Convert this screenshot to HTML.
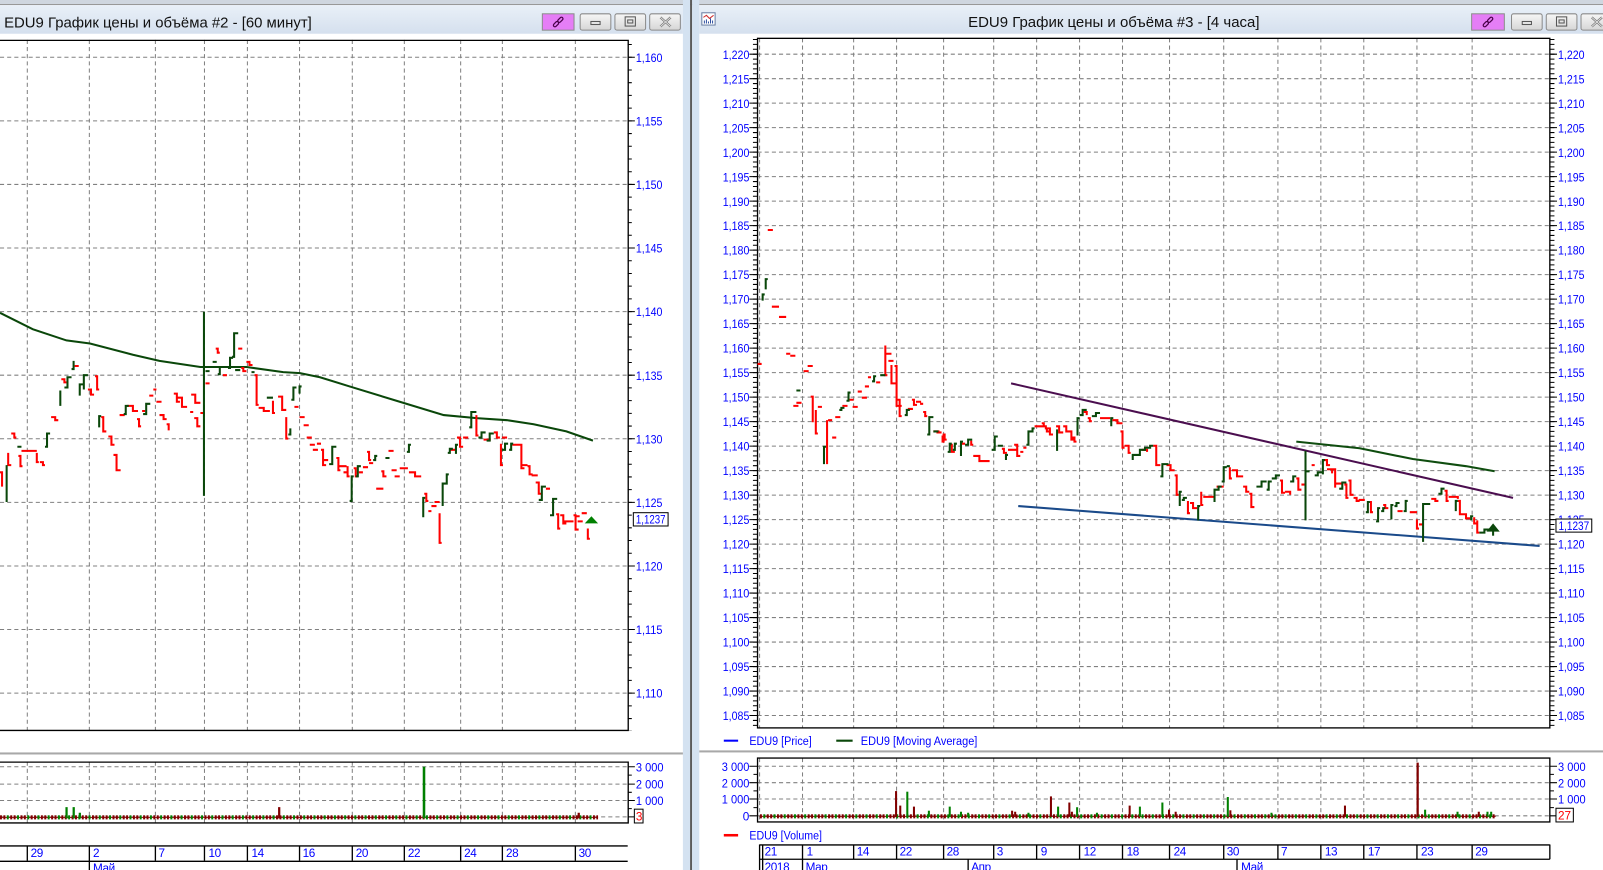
<!DOCTYPE html>
<html><head><meta charset="utf-8"><style>
html,body{margin:0;padding:0;background:#fff;overflow:hidden}
svg{display:block}
text{font-family:"Liberation Sans","Noto Sans CJK SC",sans-serif}
.yl{font-size:11.5px;fill:#0000ff}
.dl{font-size:11.5px;fill:#0000ff;letter-spacing:-0.4px}
.lg{font-size:11.5px;fill:#0000ff}
.tt{font-size:14px;fill:#111}
</style></head><body>
<svg width="1603" height="870" viewBox="0 0 1568 851" preserveAspectRatio="none" xmlns="http://www.w3.org/2000/svg">
<defs>
<linearGradient id="tb" x1="0" y1="0" x2="0" y2="1"><stop offset="0" stop-color="#e9f0f8"/><stop offset="1" stop-color="#d5e0ee"/></linearGradient>
<linearGradient id="bg" x1="0" y1="0" x2="0" y2="1"><stop offset="0" stop-color="#f6f6f6"/><stop offset="1" stop-color="#d6d6d6"/></linearGradient>
<pattern id="vb" width="10" height="4" patternUnits="userSpaceOnUse"><rect x="0" y="0" width="2" height="4" fill="#800000"/><rect x="3.3" y="0" width="2" height="4" fill="#800000"/><rect x="6.6" y="0" width="2" height="4" fill="#008000"/></pattern>
</defs>
<rect width="1568" height="851" fill="#fff"/>
<!-- top strip -->
<rect x="0" y="0" width="1568" height="4" fill="#cfd6df"/>
<line x1="0" y1="4.5" x2="1568" y2="4.5" stroke="#8a8a8a" stroke-width="1"/>
<!-- title bars -->
<rect x="0" y="5" width="668" height="28" fill="url(#tb)"/>
<rect x="684" y="5" width="884" height="28" fill="url(#tb)"/>
<!-- divider column -->
<rect x="668" y="0" width="7" height="851" fill="#d4e2f1"/>
<rect x="675" y="0" width="2" height="851" fill="#5b5b5b"/>
<rect x="677" y="0" width="7" height="851" fill="#d4e2f1"/>

<!-- titles -->
<text class="tt" x="4" y="27" textLength="301" lengthAdjust="spacingAndGlyphs">EDU9 График цены и объёма #2 - [60 минут]</text>
<text class="tt" x="947" y="26.5" textLength="285" lengthAdjust="spacingAndGlyphs">EDU9 График цены и объёма #3 - [4 часа]</text>

<!-- right window icon -->
<rect x="686.5" y="12.5" width="13" height="12" fill="#fff" stroke="#6b7fa3"/>
<path d="M688 17 L691 15 L694 18 L698 15" stroke="#d03030" fill="none" stroke-width="1"/>
<path d="M689 23V20M691 23V19M693 23V21M695 23V18M697 23V20" stroke="#3050a0" stroke-width="1"/>

<!-- left buttons -->
<rect x="530.5" y="13.5" width="31" height="16" fill="#e57ef6" stroke="#8c8c8c"/>
<g transform="rotate(-45 546 21.5)" fill="none" stroke="#4a004a" stroke-width="1.2"><rect x="540" y="20" width="6" height="3" rx="1.5"/><rect x="546" y="20" width="6" height="3" rx="1.5"/></g>
<rect x="567.5" y="13.5" width="30" height="16" rx="2" fill="url(#bg)" stroke="#8a8a8a"/>
<rect x="578" y="21" width="9" height="3" fill="none" stroke="#555"/>
<rect x="601.5" y="13.5" width="30" height="16" rx="2" fill="url(#bg)" stroke="#8a8a8a"/>
<rect x="611.5" y="16.5" width="10" height="9" fill="none" stroke="#555"/><rect x="614" y="19.5" width="5" height="3" fill="none" stroke="#555"/>
<rect x="635.5" y="13.5" width="30" height="16" rx="2" fill="url(#bg)" stroke="#8a8a8a"/>
<path d="M646 17L656 26M656 17L646 26" stroke="#777" stroke-width="2.2"/><path d="M646 17L656 26M656 17L646 26" stroke="#eee" stroke-width="0.8"/>

<!-- right buttons -->
<rect x="1439.5" y="13.5" width="32" height="16" fill="#e57ef6" stroke="#8c8c8c"/>
<g transform="rotate(-45 1455.5 21.5)" fill="none" stroke="#4a004a" stroke-width="1.2"><rect x="1449.5" y="20" width="6" height="3" rx="1.5"/><rect x="1455.5" y="20" width="6" height="3" rx="1.5"/></g>
<rect x="1478.5" y="13.5" width="30" height="16" rx="2" fill="url(#bg)" stroke="#8a8a8a"/>
<rect x="1489" y="21" width="9" height="3" fill="none" stroke="#555"/>
<rect x="1512.5" y="13.5" width="30" height="16" rx="2" fill="url(#bg)" stroke="#8a8a8a"/>
<rect x="1522.5" y="16.5" width="10" height="9" fill="none" stroke="#555"/><rect x="1525" y="19.5" width="5" height="3" fill="none" stroke="#555"/>
<rect x="1546.5" y="13.5" width="30" height="16" rx="2" fill="url(#bg)" stroke="#8a8a8a"/>
<path d="M1557 17L1567 26M1567 17L1557 26" stroke="#777" stroke-width="2.2"/><path d="M1557 17L1567 26M1567 17L1557 26" stroke="#eee" stroke-width="0.8"/>

<!-- separators -->
<rect x="0" y="736" width="668" height="2" fill="#a8a8a8"/>
<rect x="684" y="734" width="884" height="2" fill="#a8a8a8"/>

<!-- ============ LEFT CHART ============ -->
<g stroke="#808080" stroke-width="1" stroke-dasharray="4 3" fill="none">
<path d="M0 56H614M0 118.2H614M0 180.4H614M0 242.6H614M0 304.8H614M0 367H614M0 429.2H614M0 491.4H614M0 553.6H614M0 615.8H614M0 678H614"/>
<path d="M26.7 39V715M87.4 39V715M152 39V715M200 39V715M242 39V715M293 39V715M344.6 39V715M395.5 39V715M450.6 39V715M491.4 39V715M562.8 39V715"/>
<path d="M26.7 745V805M87.4 745V805M152 745V805M200 745V805M242 745V805M293 745V805M344.6 745V805M395.5 745V805M450.6 745V805M491.4 745V805M562.8 745V805"/>
<path d="M0 750H614M0 767H614M0 783H614M0 799H614"/>
</g>
<!-- left plot borders -->
<path d="M0 39.5H614.5V714.5H0" fill="none" stroke="#000" stroke-width="1.3"/>
<path d="M0 745.5H614.5V805H0" fill="none" stroke="#000" stroke-width="1.3"/>
<!-- left ticks -->
<path d="M616 43.06V715" stroke="#000" stroke-width="4" stroke-dasharray="1 11.44"/>
<path d="M614 56H621M614 118.2H621M614 180.4H621M614 242.6H621M614 304.8H621M614 367H621M614 429.2H621M614 491.4H621M614 553.6H621M614 615.8H621M614 678H621" stroke="#000" stroke-width="1"/>
<path d="M614 750H621M614 758.2H618M614 767H621M614 775H618M614 783H621M614 791H618M614 799H621" stroke="#000" stroke-width="1"/>
<!-- left y labels -->
<g class="yl">
<text x="622" y="60.5" textLength="26" lengthAdjust="spacingAndGlyphs">1,160</text>
<text x="622" y="122.7" textLength="26" lengthAdjust="spacingAndGlyphs">1,155</text>
<text x="622" y="184.9" textLength="26" lengthAdjust="spacingAndGlyphs">1,150</text>
<text x="622" y="247.1" textLength="26" lengthAdjust="spacingAndGlyphs">1,145</text>
<text x="622" y="309.3" textLength="26" lengthAdjust="spacingAndGlyphs">1,140</text>
<text x="622" y="371.5" textLength="26" lengthAdjust="spacingAndGlyphs">1,135</text>
<text x="622" y="433.7" textLength="26" lengthAdjust="spacingAndGlyphs">1,130</text>
<text x="622" y="495.9" textLength="26" lengthAdjust="spacingAndGlyphs">1,125</text>
<text x="622" y="558.1" textLength="26" lengthAdjust="spacingAndGlyphs">1,120</text>
<text x="622" y="620.3" textLength="26" lengthAdjust="spacingAndGlyphs">1,115</text>
<text x="622" y="682.5" textLength="26" lengthAdjust="spacingAndGlyphs">1,110</text>
<text x="622" y="754.5" textLength="27" lengthAdjust="spacingAndGlyphs">3 000</text>
<text x="622" y="771.5" textLength="27" lengthAdjust="spacingAndGlyphs">2 000</text>
<text x="622" y="787.5" textLength="27" lengthAdjust="spacingAndGlyphs">1 000</text>
</g>
<!-- left MA -->
<polyline points="0,306 32,322 65,333 88,336 130,347 156,353 196,359 241,359 277,364 293.5,365 313,369 342,378 391,393 434,406 466,409 496,411 522,415 554,422 580,431" fill="none" stroke="#0a470a" stroke-width="2"/>
<!-- left red bars -->
<path fill="none" stroke="#ff0000" stroke-width="2" d="M0 462H2V475H3M8 443V455H11M11 424H14V428H16M18 446H20V456H22M21 441H36M36 443V452H38M39 452H42V455H44M50 408H54V411H57M60 371H63V374H65M73 358H77M86 381H89V386H92M93 368H95V381H97M99 408H101V422H104M106 427H109V435H112M111 445H114V460H118M117 406H122M124 397H130V402H135M134 410H136V417H138M139 402H142M146 387H150M150 381H153M153 393H158M156 406H160V410H163M163 415H165V420H166M170 385H173V393H176M173 389H178V398H183M186 403H189M187 386H191V394H196M190 409H193V417H196M196 404H199M201 375H205M211 341H213V345H215M218 367H222M233 341H237M236 360H238V363H241M241 354H244V357H247M249 367H251V396H253M253 399H258V402H264M266 393H267V404H269M272 388H276V401H280M279 409H280V429H282M288 398H292M293 408H298M297 416H302M300 428H305M303 435H308M306 440H311M310 434H314M314 440H316V455H319M316 450H321M329 448H331V460H333M332 456H339M336 462H341M339 457H340V466H342M346 458H348V466H350M351 462H355M355 457H360M359 442H361V450H363M361 453H365M368 478H375M373 461H375V466H378M380 441H385M383 460H388M386 466H391M391 458H399M400 462H406V466H412M415 483H417V490H419M419 500H422M422 495H427M425 491H430M429 503H430V531H432M440 440H446M447 428H450V437H453M453 428H458M465 407H466V426H468M473 430H480M483 423H486V428H489M489 435H490V455H492M491 428H496M501 435H508M508 435H510V458H513M511 455H516M516 456H518V464H521M520 465H526M524 472H527V483H530M534 478H538M544 503H546V517H548M548 504H551V512H554M551 510H561M561 504H563V518H566M564 505H567M569 502H574M565 510H570M574 518H575V527H577"/>
<!-- left green bars -->
<path fill="none" stroke="#0a470a" stroke-width="2" d="M6.5 455V491M17 437H21M44 437H46V424H49M58 396H59V383H60M63 379H66V369H70M70 361H72V354H73M77 386H78V376H81M81 380H82V367H86M96 417H97V407H99M121 405H123V397H126M140 405H143V395H147M199.5 305V485M201 363H205M208 354H212M213 366H215V359H217M223 360H225V350H228M227 349H229V326H233M230 362H235M246 364H249M261 389H267M282 425H284V420H285M285 391H287V379H290M292 384H293V378H295M322 454H325V437H329M342 490H344V466H346M348 466H350V456H353M365 450H367V446H369M377 448H381M398 442H400V435H402M413 505H414V487H416M432 494H433V473H435M435 473H437V464H439M438 443H440V439H443M445 443H446V435H448M459 418H461V403H466M468 428H471V423H475M476 431H479V424H483M491 440H494V434H497M498 440H500V434H502M527 489H530V476H534M538 504H541V488H545"/>
<polygon points="572,512 578.5,505 585,512" fill="#008000"/>
<!-- left current price -->
<rect x="619.5" y="501.5" width="34" height="13" fill="#fff" stroke="#000" stroke-width="1"/>
<text class="yl" x="622" y="512" textLength="29" lengthAdjust="spacingAndGlyphs">1,1237</text>
<!-- left volume -->
<line x1="0" y1="799.5" x2="585" y2="799.5" stroke="#800000" stroke-width="1"/>
<rect x="0" y="797.5" width="585" height="4" fill="url(#vb)"/>
<g>
<rect x="64" y="789.5" width="2.2" height="11" fill="#008000"/>
<rect x="71" y="789.5" width="2.2" height="11" fill="#008000"/>
<rect x="77" y="795" width="2.2" height="5.5" fill="#008000"/>
<rect x="272" y="789.5" width="2.2" height="11" fill="#800000"/>
<rect x="413.5" y="750" width="2.5" height="50.5" fill="#008000"/>
<rect x="565" y="795" width="2.2" height="5.5" fill="#800000"/>
</g>
<rect x="620.5" y="791.5" width="8.5" height="13.5" fill="#fff" stroke="#000" stroke-width="1"/>
<text x="622" y="802.5" style="font-size:11.5px;fill:#ff0000">3</text>
<!-- left date axis -->
<path d="M0 827.5H614M0 842.5H614" stroke="#000" stroke-width="1.3" fill="none"/>
<path d="M26.7 827V842M87.4 827V851M152 827V842M200 827V842M242 827V842M293 827V842M344.6 827V842M395.5 827V842M450.6 827V842M491.4 827V842M562.8 827V842" stroke="#000" stroke-width="1.3"/>
<g class="dl">
<text x="30" y="838.5">29</text><text x="91" y="838.5">2</text><text x="155" y="838.5">7</text><text x="204" y="838.5">10</text><text x="246" y="838.5">14</text><text x="296" y="838.5">16</text><text x="348" y="838.5">20</text><text x="399" y="838.5">22</text><text x="454" y="838.5">24</text><text x="495" y="838.5">28</text><text x="566" y="838.5">30</text>
<text x="91" y="853">Май</text>
</g>

<!-- ============ RIGHT CHART ============ -->
<g stroke="#808080" stroke-width="1" stroke-dasharray="4 3" fill="none">
<path d="M741 53H1516M741 76.96H1516M741 100.92H1516M741 124.88H1516M741 148.84H1516M741 172.8H1516M741 196.76H1516M741 220.72H1516M741 244.68H1516M741 268.64H1516M741 292.6H1516M741 316.56H1516M741 340.52H1516M741 364.48H1516M741 388.44H1516M741 412.4H1516M741 436.36H1516M741 460.32H1516M741 484.28H1516M741 508.24H1516M741 532.2H1516M741 556.16H1516M741 580.12H1516M741 604.08H1516M741 628.04H1516M741 652H1516M741 675.96H1516M741 699.92H1516"/>
<path d="M743 37.5V712M785 37.5V712M835 37.5V712M877 37.5V712M923 37.5V712M972 37.5V712M1014 37.5V712M1056 37.5V712M1098 37.5V712M1144 37.5V712M1197 37.5V712M1250 37.5V712M1292 37.5V712M1334 37.5V712M1386 37.5V712M1440 37.5V712"/>
<path d="M743 741.5V804M785 741.5V804M835 741.5V804M877 741.5V804M923 741.5V804M972 741.5V804M1014 741.5V804M1056 741.5V804M1098 741.5V804M1144 741.5V804M1197 741.5V804M1250 741.5V804M1292 741.5V804M1334 741.5V804M1386 741.5V804M1440 741.5V804"/>
<path d="M741 749.5H1516M741 765.6H1516M741 781.6H1516M741 798H1516"/>
</g>
<rect x="741" y="37.5" width="775" height="674.5" fill="none" stroke="#000" stroke-width="1.3"/>
<rect x="741" y="741.5" width="775" height="62.5" fill="none" stroke="#000" stroke-width="1.3"/>
<!-- right ticks -->
<path d="M738.5 38.12V712M1518.5 38.12V712" stroke="#000" stroke-width="4" stroke-dasharray="1 3.792"/>
<path d="M733 53H741M733 76.96H741M733 100.92H741M733 124.88H741M733 148.84H741M733 172.8H741M733 196.76H741M733 220.72H741M733 244.68H741M733 268.64H741M733 292.6H741M733 316.56H741M733 340.52H741M733 364.48H741M733 388.44H741M733 412.4H741M733 436.36H741M733 460.32H741M733 484.28H741M733 508.24H741M733 532.2H741M733 556.16H741M733 580.12H741M733 604.08H741M733 628.04H741M733 652H741M733 675.96H741M733 699.92H741" stroke="#000" stroke-width="1"/>
<path d="M1516 53H1523M1516 76.96H1523M1516 100.92H1523M1516 124.88H1523M1516 148.84H1523M1516 172.8H1523M1516 196.76H1523M1516 220.72H1523M1516 244.68H1523M1516 268.64H1523M1516 292.6H1523M1516 316.56H1523M1516 340.52H1523M1516 364.48H1523M1516 388.44H1523M1516 412.4H1523M1516 436.36H1523M1516 460.32H1523M1516 484.28H1523M1516 508.24H1523M1516 532.2H1523M1516 556.16H1523M1516 580.12H1523M1516 604.08H1523M1516 628.04H1523M1516 652H1523M1516 675.96H1523M1516 699.92H1523" stroke="#000" stroke-width="1"/>
<path d="M733 749.5H741M737 757.5H741M733 765.6H741M737 773.6H741M733 781.6H741M737 790H741M733 798H741M1516 749.5H1523M1516 757.5H1520M1516 765.6H1523M1516 773.6H1520M1516 781.6H1523M1516 790H1520M1516 798H1523" stroke="#000" stroke-width="1"/>
<!-- right y labels left side -->
<g class="yl" text-anchor="end">
<text x="733" y="57.5" textLength="26" lengthAdjust="spacingAndGlyphs">1,220</text>
<text x="733" y="81.46" textLength="26" lengthAdjust="spacingAndGlyphs">1,215</text>
<text x="733" y="105.42" textLength="26" lengthAdjust="spacingAndGlyphs">1,210</text>
<text x="733" y="129.38" textLength="26" lengthAdjust="spacingAndGlyphs">1,205</text>
<text x="733" y="153.34" textLength="26" lengthAdjust="spacingAndGlyphs">1,200</text>
<text x="733" y="177.3" textLength="26" lengthAdjust="spacingAndGlyphs">1,195</text>
<text x="733" y="201.26" textLength="26" lengthAdjust="spacingAndGlyphs">1,190</text>
<text x="733" y="225.22" textLength="26" lengthAdjust="spacingAndGlyphs">1,185</text>
<text x="733" y="249.18" textLength="26" lengthAdjust="spacingAndGlyphs">1,180</text>
<text x="733" y="273.14" textLength="26" lengthAdjust="spacingAndGlyphs">1,175</text>
<text x="733" y="297.1" textLength="26" lengthAdjust="spacingAndGlyphs">1,170</text>
<text x="733" y="321.06" textLength="26" lengthAdjust="spacingAndGlyphs">1,165</text>
<text x="733" y="345.02" textLength="26" lengthAdjust="spacingAndGlyphs">1,160</text>
<text x="733" y="368.98" textLength="26" lengthAdjust="spacingAndGlyphs">1,155</text>
<text x="733" y="392.94" textLength="26" lengthAdjust="spacingAndGlyphs">1,150</text>
<text x="733" y="416.9" textLength="26" lengthAdjust="spacingAndGlyphs">1,145</text>
<text x="733" y="440.86" textLength="26" lengthAdjust="spacingAndGlyphs">1,140</text>
<text x="733" y="464.82" textLength="26" lengthAdjust="spacingAndGlyphs">1,135</text>
<text x="733" y="488.78" textLength="26" lengthAdjust="spacingAndGlyphs">1,130</text>
<text x="733" y="512.74" textLength="26" lengthAdjust="spacingAndGlyphs">1,125</text>
<text x="733" y="536.7" textLength="26" lengthAdjust="spacingAndGlyphs">1,120</text>
<text x="733" y="560.66" textLength="26" lengthAdjust="spacingAndGlyphs">1,115</text>
<text x="733" y="584.62" textLength="26" lengthAdjust="spacingAndGlyphs">1,110</text>
<text x="733" y="608.58" textLength="26" lengthAdjust="spacingAndGlyphs">1,105</text>
<text x="733" y="632.54" textLength="26" lengthAdjust="spacingAndGlyphs">1,100</text>
<text x="733" y="656.5" textLength="26" lengthAdjust="spacingAndGlyphs">1,095</text>
<text x="733" y="680.46" textLength="26" lengthAdjust="spacingAndGlyphs">1,090</text>
<text x="733" y="704.42" textLength="26" lengthAdjust="spacingAndGlyphs">1,085</text>
<text x="733" y="754" textLength="27" lengthAdjust="spacingAndGlyphs">3 000</text>
<text x="733" y="770.1" textLength="27" lengthAdjust="spacingAndGlyphs">2 000</text>
<text x="733" y="786.1" textLength="27" lengthAdjust="spacingAndGlyphs">1 000</text>
<text x="733" y="802.5">0</text>
</g>
<!-- right y labels right side -->
<g class="yl">
<text x="1524" y="57.5" textLength="26" lengthAdjust="spacingAndGlyphs">1,220</text>
<text x="1524" y="81.46" textLength="26" lengthAdjust="spacingAndGlyphs">1,215</text>
<text x="1524" y="105.42" textLength="26" lengthAdjust="spacingAndGlyphs">1,210</text>
<text x="1524" y="129.38" textLength="26" lengthAdjust="spacingAndGlyphs">1,205</text>
<text x="1524" y="153.34" textLength="26" lengthAdjust="spacingAndGlyphs">1,200</text>
<text x="1524" y="177.3" textLength="26" lengthAdjust="spacingAndGlyphs">1,195</text>
<text x="1524" y="201.26" textLength="26" lengthAdjust="spacingAndGlyphs">1,190</text>
<text x="1524" y="225.22" textLength="26" lengthAdjust="spacingAndGlyphs">1,185</text>
<text x="1524" y="249.18" textLength="26" lengthAdjust="spacingAndGlyphs">1,180</text>
<text x="1524" y="273.14" textLength="26" lengthAdjust="spacingAndGlyphs">1,175</text>
<text x="1524" y="297.1" textLength="26" lengthAdjust="spacingAndGlyphs">1,170</text>
<text x="1524" y="321.06" textLength="26" lengthAdjust="spacingAndGlyphs">1,165</text>
<text x="1524" y="345.02" textLength="26" lengthAdjust="spacingAndGlyphs">1,160</text>
<text x="1524" y="368.98" textLength="26" lengthAdjust="spacingAndGlyphs">1,155</text>
<text x="1524" y="392.94" textLength="26" lengthAdjust="spacingAndGlyphs">1,150</text>
<text x="1524" y="416.9" textLength="26" lengthAdjust="spacingAndGlyphs">1,145</text>
<text x="1524" y="440.86" textLength="26" lengthAdjust="spacingAndGlyphs">1,140</text>
<text x="1524" y="464.82" textLength="26" lengthAdjust="spacingAndGlyphs">1,135</text>
<text x="1524" y="488.78" textLength="26" lengthAdjust="spacingAndGlyphs">1,130</text>
<text x="1524" y="512.74" textLength="26" lengthAdjust="spacingAndGlyphs">1,125</text>
<text x="1524" y="536.7" textLength="26" lengthAdjust="spacingAndGlyphs">1,120</text>
<text x="1524" y="560.66" textLength="26" lengthAdjust="spacingAndGlyphs">1,115</text>
<text x="1524" y="584.62" textLength="26" lengthAdjust="spacingAndGlyphs">1,110</text>
<text x="1524" y="608.58" textLength="26" lengthAdjust="spacingAndGlyphs">1,105</text>
<text x="1524" y="632.54" textLength="26" lengthAdjust="spacingAndGlyphs">1,100</text>
<text x="1524" y="656.5" textLength="26" lengthAdjust="spacingAndGlyphs">1,095</text>
<text x="1524" y="680.46" textLength="26" lengthAdjust="spacingAndGlyphs">1,090</text>
<text x="1524" y="704.42" textLength="26" lengthAdjust="spacingAndGlyphs">1,085</text>
<text x="1524" y="754" textLength="27" lengthAdjust="spacingAndGlyphs">3 000</text>
<text x="1524" y="770.1" textLength="27" lengthAdjust="spacingAndGlyphs">2 000</text>
<text x="1524" y="786.1" textLength="27" lengthAdjust="spacingAndGlyphs">1 000</text>
</g>
<!-- trend lines -->
<line x1="996" y1="495" x2="1506" y2="534" stroke="#1a4a8a" stroke-width="2"/>
<line x1="989" y1="375" x2="1480" y2="487" stroke="#4b0e4f" stroke-width="2"/>
<polyline points="1268,432 1330,438.5 1382,449 1434,456 1462,461" fill="none" stroke="#0f4d0f" stroke-width="2"/>
<!-- right red bars -->
<path fill="none" stroke="#ff0000" stroke-width="2" d="M741 356H745M751 225H756M755 300H762M762 310H769M769 346H773M773 348H778M776 397H781M779 394H784M786 363H791M790 358H795M793 388H795V412H796M797 402H798V424H800M800 398H804M808 412H809V453H810M810 411H814M814 428H818M817 408H822M824 397H829M831 391H835M834 398H839M839 383H843M843 389H848M846 378H850M849 369H852M857 374H861M865 339H866V367H868M867 346H872M869 353H874M871 358H872V375H874M874 375H877M875 358H877V397H880M877 397H882M878 391H880V407H882M888 400H893M892 391H894V396H897M896 393H901M900 395H903M903 403H905V407H907M913 422H919M916 423H921M921 427H922V432H924M922 425H924V430H926M929 435H931V442H934M941 434H944M949 432H950V435H952M952 446H958V451H968M980 439H982V443H985M986 440H994M992 435H995V446H998M998 442H1001M1001 438H1004M1012 417H1020M1019 414H1021V417H1024M1022 419H1024V422H1027M1025 419H1027V425H1030M1033 417H1036V423H1040M1040 417H1043V422H1046M1046 422H1048V430H1051M1049 428H1051V432H1053M1060 403H1063V406M1064 409H1066V412H1068M1076 409H1086M1088 411H1093V414H1098M1096 422H1098V438H1100M1100 436H1104M1103 436H1104V443H1106M1117 440H1122V442M1128 436H1131V455H1135M1141 455H1145V460H1149M1149 465H1151V484H1153M1161 491H1162V502H1164M1164 492H1167V497H1171M1174 482H1175V494H1177M1177 486H1187M1190 476H1197M1202 458H1203V468H1205M1205 460H1210V466H1216M1216 476H1219V481H1222M1222 483H1224V496H1227M1252 470H1254V482H1257M1257 481H1262V484M1268 468H1270V479H1273M1273 474H1276M1283 455H1286M1295 450H1298V455H1301M1298 459H1303V463M1303 459H1306V476H1307M1307 473H1314M1315 474H1317V487H1319M1319 470H1321V484H1324M1324 487H1327V490H1330M1329 489H1335M1340 491H1341V501H1343M1353 494H1355V497H1358M1367 500H1372M1379 501H1386M1385 509H1386V517H1388M1388 513H1392M1400 488H1404V490H1407M1413 480H1415V490H1417M1417 486H1426V488M1426 490H1428V503H1431M1431 503H1434V507H1438M1441 507H1442V512H1444M1444 510H1445V521H1447"/>
<!-- right green bars -->
<path fill="none" stroke="#0a470a" stroke-width="2" d="M745 293H746V288H748M748 282H749V273H751M779 382H783M805 453H806V437H808M821 401H823V399H826M828 392H830V384H832M853 373H855V368H857M861 367H866M885 406H887V401H890M907 425H909V408H913M913 422H918M927 442H929V434H931M932 440H934V434H936M939 445H940V432H942M944 435H947V430H951M970 440H973V427H976M976 436H981M983 449H984V445H986M1004 435H1006V422H1008M1008 422H1010V419H1012M1033 440H1034V421H1035M1053 425H1054V409H1056M1056 406H1059V401H1063M1068 407H1072V404H1076M1086 416H1087V409H1089M1107 449H1108V445H1110M1110 445H1115V440H1120V438H1125M1123 438H1125V436H1128M1135 466H1137V454H1143M1153 494H1154V481H1156M1156 489H1158V487H1161M1171 508H1172V495H1174M1187 490H1188V479H1190M1190 479H1192V476H1195M1195 471H1197V457H1200M1200 456H1203M1229 476H1234V471H1239M1239 479H1241V471H1244M1244 468H1248V465H1252M1262 471H1265V466H1268M1277 509V441M1277 461H1281M1286 465H1289V462H1293M1293 463H1294V450H1296M1310 478H1313V472H1317M1336 501H1338V491H1340M1346 510H1348V497H1350M1351 500H1353V497H1355M1360 507H1361V494H1363M1364 495H1366V492H1369M1373 500H1375V490H1377M1392 530V493H1399M1407 483H1410V478H1413M1423 499H1424V490H1426M1438 508H1439V505H1441M1447 521H1452V518H1460"/>
<polygon points="1454,520 1460.5,512 1467,520" fill="#0a470a"/>
<path d="M1460.5 519V524" stroke="#0a470a" stroke-width="2"/>
<!-- right current price -->
<rect x="1522" y="507.7" width="35" height="12.8" fill="#fff" stroke="#000" stroke-width="1"/>
<text class="yl" x="1524.5" y="518.3" textLength="30" lengthAdjust="spacingAndGlyphs">1,1237</text>
<!-- legend -->
<line x1="708" y1="724.5" x2="722" y2="724.5" stroke="#0000ff" stroke-width="2"/>
<text class="lg" x="733" y="728.5" textLength="61" lengthAdjust="spacingAndGlyphs">EDU9 [Price]</text>
<line x1="818" y1="724.5" x2="834" y2="724.5" stroke="#0a470a" stroke-width="2"/>
<text class="lg" x="842" y="728.5" textLength="114" lengthAdjust="spacingAndGlyphs">EDU9 [Moving Average]</text>
<line x1="708" y1="817" x2="722" y2="817" stroke="#ff0000" stroke-width="2.5"/>
<text class="lg" x="733" y="821" textLength="71" lengthAdjust="spacingAndGlyphs">EDU9 [Volume]</text>
<!-- right volume -->
<line x1="743" y1="798.5" x2="1463" y2="798.5" stroke="#800000" stroke-width="1"/>
<rect x="743" y="796.5" width="720" height="4" fill="url(#vb)"/>
<g>
<rect x="875.5" y="773.8" width="2" height="25.5" fill="#800000"/>
<rect x="879.6" y="788" width="2" height="11" fill="#800000"/>
<rect x="886.5" y="774.4" width="2" height="25" fill="#008000"/>
<rect x="893" y="789" width="2" height="10" fill="#800000"/>
<rect x="907.6" y="793" width="2" height="6" fill="#008000"/>
<rect x="928" y="789" width="2" height="10" fill="#008000"/>
<rect x="939" y="794" width="2" height="5" fill="#008000"/>
<rect x="946" y="795" width="2" height="4" fill="#008000"/>
<rect x="989" y="793" width="2" height="6" fill="#800000"/>
<rect x="992" y="794" width="2" height="5" fill="#800000"/>
<rect x="1005" y="795" width="2" height="4" fill="#008000"/>
<rect x="1027" y="779" width="2" height="20" fill="#800000"/>
<rect x="1034" y="789" width="2" height="10" fill="#008000"/>
<rect x="1045" y="785" width="2" height="14" fill="#800000"/>
<rect x="1047.5" y="794" width="2" height="5" fill="#800000"/>
<rect x="1052.6" y="789.6" width="2" height="9.5" fill="#008000"/>
<rect x="1072" y="795" width="2" height="4" fill="#008000"/>
<rect x="1104" y="788" width="2" height="11" fill="#800000"/>
<rect x="1114" y="789" width="2" height="10" fill="#008000"/>
<rect x="1136" y="785" width="2" height="14" fill="#008000"/>
<rect x="1142.5" y="792" width="2" height="7" fill="#800000"/>
<rect x="1149" y="794" width="2" height="5" fill="#800000"/>
<rect x="1200" y="779.6" width="2" height="19.5" fill="#008000"/>
<rect x="1202.5" y="792.6" width="2" height="6.5" fill="#800000"/>
<rect x="1242.7" y="795" width="2" height="4" fill="#008000"/>
<rect x="1314.6" y="788" width="2" height="11" fill="#800000"/>
<rect x="1385.6" y="746" width="2.2" height="53" fill="#800000"/>
<rect x="1393" y="792" width="2" height="7" fill="#008000"/>
<rect x="1424.7" y="794" width="2" height="5" fill="#008000"/>
<rect x="1445.5" y="794" width="2" height="5" fill="#800000"/>
<rect x="1454" y="794" width="2" height="5" fill="#008000"/>
<rect x="1457.6" y="794" width="2" height="5" fill="#008000"/>
</g>
<rect x="1522" y="790.6" width="17" height="13.4" fill="#fff" stroke="#000" stroke-width="1"/>
<text x="1524" y="801.8" style="font-size:11.5px;fill:#ff0000">27</text>
<!-- right date axis -->
<path d="M743 826.5H1516M743 840.5H1516" stroke="#000" stroke-width="1.3" fill="none"/>
<path d="M743 826V851M746 826V851M785 826V851M835 826V840.5M877 826V840.5M923 826V840.5M947 840.5V851M972 826V840.5M1014 826V840.5M1056 826V840.5M1098 826V840.5M1144 826V840.5M1197 826V840.5M1210 840.5V851M1250 826V840.5M1292 826V840.5M1334 826V840.5M1386 826V840.5M1440 826V840.5M1516 826V840.5" stroke="#000" stroke-width="1.3"/>
<g class="dl">
<text x="748" y="837">21</text><text x="789" y="837">1</text><text x="838" y="837">14</text><text x="880" y="837">22</text><text x="926" y="837">28</text><text x="975" y="837">3</text><text x="1018" y="837">9</text><text x="1060" y="837">12</text><text x="1102" y="837">18</text><text x="1148" y="837">24</text><text x="1200" y="837">30</text><text x="1253" y="837">7</text><text x="1296" y="837">13</text><text x="1338" y="837">17</text><text x="1390" y="837">23</text><text x="1443" y="837">29</text>
<text x="748" y="852">2018</text><text x="788" y="852">Мар</text><text x="950" y="852">Апр</text><text x="1214" y="852">Май</text>
</g>
</svg>
</body></html>
